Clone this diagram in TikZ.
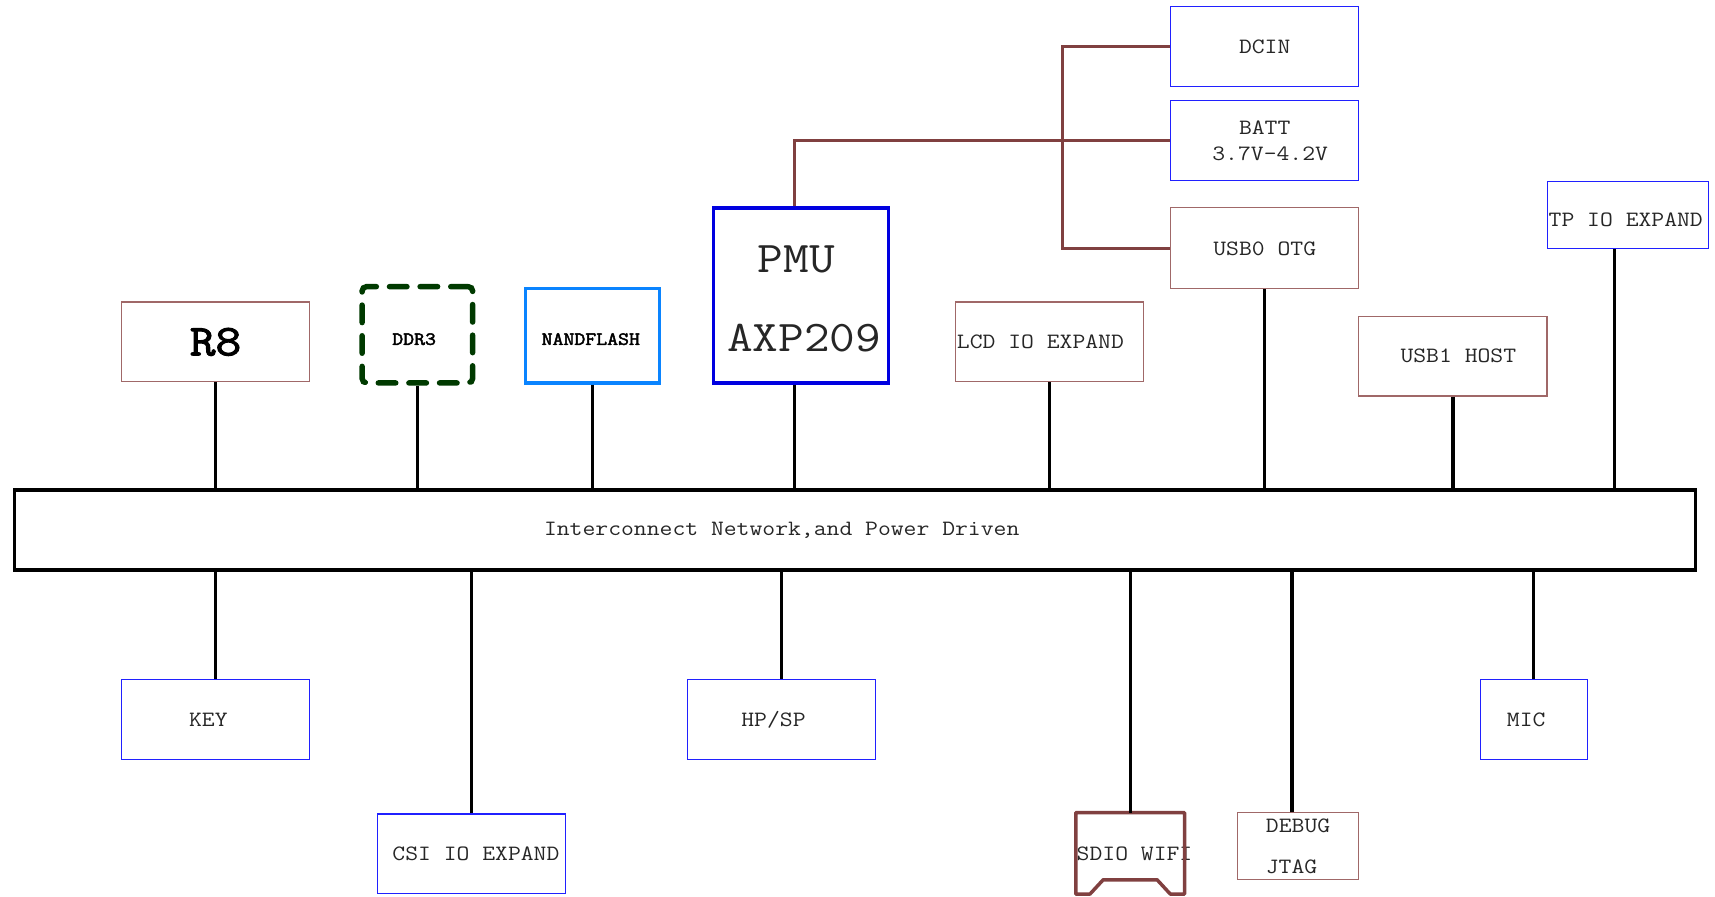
\documentclass[tikz,border=0pt]{standalone}
\usepackage{fontspec}
\newfontfamily\cour[FakeStretch=1.14]{Latin Modern Mono}
\newfontfamily\courb[FakeStretch=1.14,FakeBold=2.5]{Latin Modern Mono}
\usetikzlibrary{calc}
\definecolor{thinbrown}{HTML}{A06868}
\definecolor{pwrbrown}{HTML}{804040}
\definecolor{thinblue}{HTML}{2020FF}
\definecolor{pmublue}{HTML}{0000E0}
\definecolor{nandblue}{HTML}{0A84FF}
\definecolor{ddrgreen}{HTML}{003A00}
\definecolor{txt}{HTML}{262626}
\newcommand\txs[2]{\makebox[0pt]{\hspace*{#1}#2}}
\newcommand\txy[3]{\makebox[0pt]{\hspace*{#1}\smash{\raisebox{#2}{#3}}}}
\begin{document}
\begin{tikzpicture}[x=1pt,y=-1pt,
  box/.style={rectangle, inner sep=0pt, text=txt, font=\cour\fontsize{20}{24}\selectfont, align=center},
  bbox/.style={box, draw=thinbrown, line width=1pt},
  ubox/.style={box, draw=thinblue, line width=1pt},
  link/.style={line width=3pt, black},
  pwr/.style={line width=3.2pt, pwrbrown},
]
\useasboundingbox (0,0) rectangle (1567.6,819);

% bus
\node[box, draw=black, line width=3pt, minimum width=1537pt, minimum height=73pt] (bus) at (781.5,484.5) {\txs{-134pt}{Interconnect Network,and Power Driven}};

% top row
\node[bbox, minimum width=172pt, minimum height=73pt, font=\courb\fontsize{40}{44}\selectfont, text=black] (r8) at (197,312.5) {R8};
\node[box, draw=ddrgreen, line width=5pt, dash pattern=on 16pt off 12pt, line cap=round, rounded corners=4pt, minimum width=101pt, minimum height=88pt, font=\courb\fontsize{17}{19}\selectfont, text=black] (ddr) at (381.5,306) {\txy{-6pt}{-9.2pt}{DDR3}};
\node[box, draw=nandblue, line width=3pt, minimum width=123pt, minimum height=86pt, font=\courb\fontsize{17}{19}\selectfont, text=black] (nand) at (541.5,307) {\txy{-3pt}{-8.2pt}{NANDFLASH}};
\node[box, draw=pmublue, line width=3pt, minimum width=160pt, minimum height=160pt, font=\cour\fontsize{40}{44}\selectfont] (pmu) at (732,270) {\txy{-8pt}{20.8pt}{PMU}\txy{6pt}{-51.2pt}{AXP209}};
\node[bbox, minimum width=172pt, minimum height=73pt] (lcd) at (959,312.5) {\txs{-16pt}{LCD IO EXPAND}};
\node[ubox, minimum width=172pt, minimum height=73pt] (dcin) at (1156,42.5) {DCIN};
\node[ubox, minimum width=172pt, minimum height=73pt] (batt) at (1156,128.5) {BATT\\\txs{10pt}{3.7V-4.2V}};
\node[bbox, minimum width=172pt, minimum height=74pt] (usb0) at (1156,227) {USB0 OTG};
\node[ubox, minimum width=147pt, minimum height=61pt] (tp) at (1488,196.5) {\txy{-4pt}{-10.6pt}{TP IO EXPAND}};
\node[bbox, minimum width=172pt, minimum height=73pt] (usb1) at (1328,325.5) {\txs{10pt}{USB1 HOST}};

% bottom row
\node[ubox, minimum width=172pt, minimum height=73pt] (key) at (197,657.5) {\txs{-13pt}{KEY}};
\node[ubox, minimum width=172pt, minimum height=73pt] (csi) at (431,780.5) {\txs{8pt}{CSI IO EXPAND}};
\node[ubox, minimum width=172pt, minimum height=73pt] (hp) at (714,657.5) {\txs{-14pt}{HP/SP}};
\node[box, minimum width=99pt, minimum height=74pt] (sdio) at (1033,780) {\txs{8pt}{SDIO WIFI}};
\node[bbox, minimum width=111pt, minimum height=61pt] (dbg) at (1186.5,773.5) {DEBUG\\[13pt]\txs{-12pt}{JTAG}};
\node[ubox, minimum width=98pt, minimum height=73pt] (mic) at (1402,657.5) {\txs{-14pt}{MIC}};

\draw[pwr, line join=round] (sdio.south west) -- (sdio.north west) -- (sdio.north east) -- (sdio.south east)
  -- ($(sdio.south east)+(-13,0)$) -- ($(sdio.south east)+(-25,-13)$)
  -- ($(sdio.south west)+(25,-13)$) -- ($(sdio.south west)+(13,0)$) -- cycle;

% links to bus
\draw[link] (r8.south) -- (r8.south |- bus.north);
\draw[link] (ddr.south) -- (ddr.south |- bus.north);
\draw[link] (nand.south) -- (nand.south |- bus.north);
\draw[link] ([xshift=-6pt]pmu.south) -- ([xshift=-6pt]pmu.south |- bus.north);
\draw[link] (lcd.south) -- (lcd.south |- bus.north);
\draw[link] (usb0.south) -- (usb0.south |- bus.north);
\draw[link] (usb1.south) -- (usb1.south |- bus.north);
\draw[link] ([xshift=-12pt]tp.south) -- ([xshift=-12pt]tp.south |- bus.north);

\draw[link] (key.north) -- (key.north |- bus.south);
\draw[link] (csi.north) -- (csi.north |- bus.south);
\draw[link] (hp.north) -- (hp.north |- bus.south);
\draw[link] (sdio.north) -- (sdio.north |- bus.south);
\draw[link] ([xshift=-5.5pt]dbg.north) -- ([xshift=-5.5pt]dbg.north |- bus.south);
\draw[link] (mic.north) -- (mic.north |- bus.south);

% power lines
\draw[pwr] ([xshift=-6pt]pmu.north) |- (batt.west);
\coordinate (tr) at (971,0);
\draw[pwr] (dcin.west) -| (tr |- usb0.west) -- (usb0.west);
\end{tikzpicture}
\end{document}
